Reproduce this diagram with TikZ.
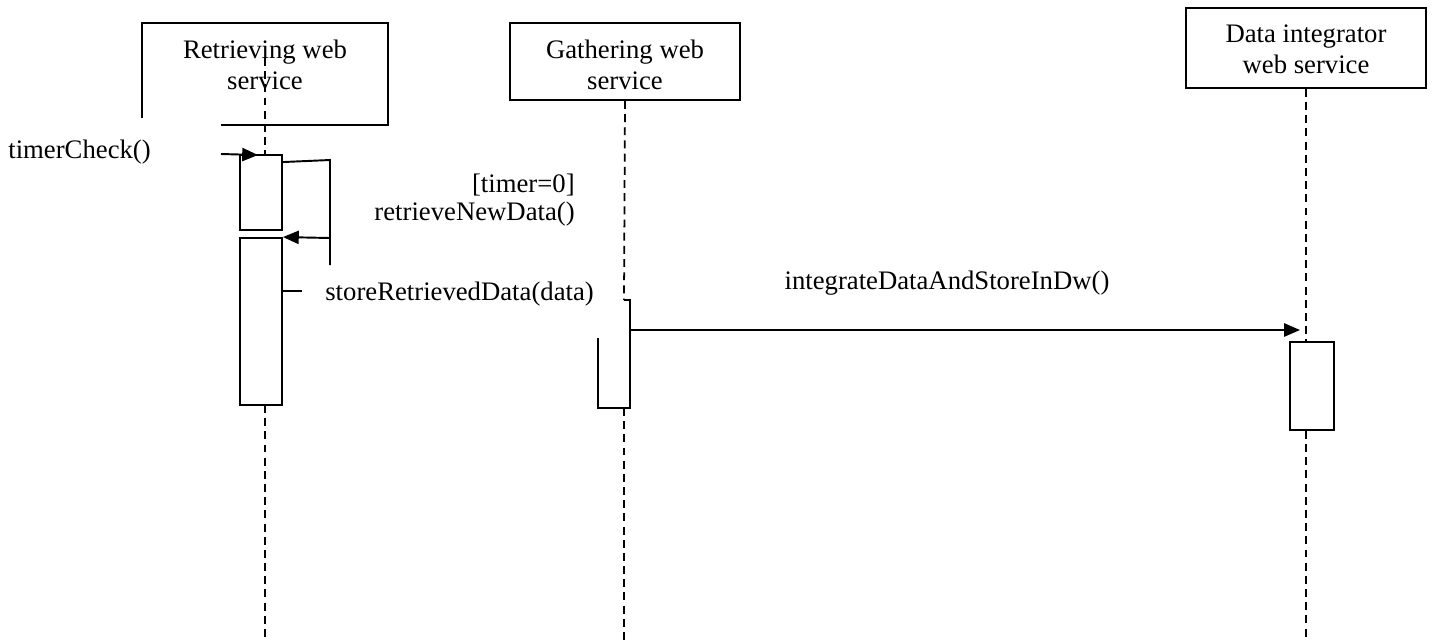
\documentclass[tikz,border=0pt]{standalone}
\usepackage{fontspec}
\setmainfont{Liberation Serif}
\usetikzlibrary{arrows.meta,calc,positioning}
\tikzset{
    >={Triangle[length=9pt,width=7.5pt]},
    kopf/.style={
           rectangle,
           draw=black, line width=1.1pt,
           inner sep=0pt},
    akt/.style={
           rectangle,
           draw=black, line width=1.1pt,
           minimum width=0.84cm,
           inner sep=0pt},
    leben/.style={
           dashed, dash pattern=on 4.5pt off 3pt,
           line width=1pt},
    pil/.style={
           ->,
           line width=1.1pt},
    linie/.style={
           line width=1.1pt},
    txt/.style={
           inner sep=0pt,
           align=center,
           font=\fontsize{15.2}{17.5}\selectfont}
}

\begin{document}
\begin{tikzpicture}[x=0.02cm, y=-0.02cm]
        \useasboundingbox (0,0) rectangle (1434,640);

        % lifeline heads
        \node[txt] (rws) at (265,65) {Retrieving web\\service};
        \draw[linie] (142,118) -- (142,23) -- (388,23) -- (388,125) -- (221,125);
        \node[kopf, minimum width=4.6cm, minimum height=1.54cm] (gws) at (625,61.5) {};
        \node[txt] (gwst) at ($(gws.center)+(0,3.5)$) {Gathering web\\service};
        \node[kopf, minimum width=4.8cm, minimum height=1.6cm] (diws) at (1306,48) {};
        \node[txt] (diwst) at ($(diws.center)+(0,1)$) {Data integrator\\web service};

        % activations
        \node[akt, minimum height=1.5cm] (a1) at (261,192.5) {};
        \node[akt, minimum height=3.34cm] (a2) at (261,321.5) {};
        \node[akt, minimum width=0.88cm, minimum height=1.76cm] (a3) at (1312,386) {};
        \draw[linie] (598,338) -- (598,408) -- (630,408) -- (630,300) -- (624,300);

        % lifelines
        \draw[leben] (265,58) -- (265,155);
        \draw[leben] (265,405) -- (265,640);
        \draw[leben] (gws.south) -- (624,300);
        \draw[leben] (624,408) -- (624,640);
        \draw[leben] (diws.south) -- (a3.north -| diws.south);
        \draw[leben] (a3.south -| diws.south) -- (1306,640);

        % messages
        \coordinate (tc) at (221,154);
        \coordinate (s1) at (330,160);
        \coordinate (s2) at (330,238);
        \coordinate (s3) at (330,265);
        \coordinate (g1) at (630,330);
        \coordinate (g2) at (1300,330);
        \draw[pil] (tc) -- (258,155);
        \draw[linie] ($(a1.north east)+(0,8)$) -- (s1) -- (s3);
        \draw[pil] (s2) -- (a2.north east);
        \draw[linie] (283,291) -- (302,291);
        \draw[pil] (g1) -- (g2);

        % labels
        \node[txt, anchor=west] (l1) at (8,152) {timerCheck()};
        \node[txt, anchor=east] (l2) at (575,185) {[timer=0]};
        \node[txt, anchor=east] (l3) at (575,214) {retrieveNewData()};
        \node[txt, anchor=west] (l4) at (325,294) {storeRetrievedData(data)};
        \node[txt] (l5) at (947,283) {integrateDataAndStoreInDw()};
\end{tikzpicture}
\end{document}
